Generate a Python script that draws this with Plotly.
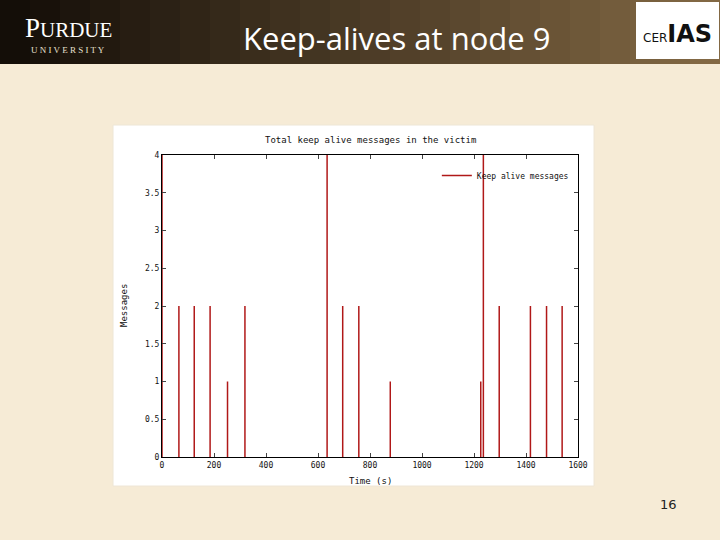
import plotly.graph_objects as go

# spike times (s) and message counts
times = [0, 65, 124, 185, 252, 319, 635, 695, 757, 878, 1226, 1236, 1297, 1417, 1479, 1539]
counts = [4, 2, 2, 2, 1, 2, 4, 2, 2, 1, 1, 4, 2, 2, 2, 2]
x_ticks = [0, 200, 400, 600, 800, 1000, 1200, 1400, 1600]
y_ticks = [0, 0.5, 1, 1.5, 2, 2.5, 3, 3.5, 4]

W, H = 720, 540
L, R, T, B = 162, 578, 155, 457

xs, ys = [], []
for t, c in zip(times, counts):
    xs += [t, t, None]
    ys += [0, c, None]

fig = go.Figure()
fig.add_trace(go.Scatter(x=xs, y=ys, mode="lines", name="Keep alive messages",
                         line=dict(color="#b01818", width=1.5)))

def px(x):
    return (x - L) / (R - L)

def py(y):
    return (B - y) / (B - T)

shapes = []
# header band with rough gradient
n = 24
for i in range(n):
    f = i / (n - 1)
    r = int(20 + f * 110); g = int(14 + f * 90); b = int(8 + f * 60)
    shapes.append(dict(type="rect", xref="paper", yref="paper", layer="below",
                       x0=px(i * W / n), x1=px((i + 1) * W / n + 1), y0=py(64), y1=py(0),
                       fillcolor=f"rgb({r},{g},{b})", line=dict(width=0)))
# white chart image box
shapes.append(dict(type="rect", xref="paper", yref="paper", layer="below",
                   x0=px(113), x1=px(594), y0=py(486), y1=py(125),
                   fillcolor="white", line=dict(color="#eee6d6", width=1)))
# CERIAS logo box
shapes.append(dict(type="rect", xref="paper", yref="paper",
                   x0=px(636), x1=px(719), y0=py(59), y1=py(2),
                   fillcolor="white", line=dict(width=0)))

def note(text, x, y, size, color="#111", family="DejaVu Sans Mono", **kw):
    return dict(text=text, x=px(x), y=py(y), xref="paper", yref="paper",
                xanchor="center", yanchor="middle", showarrow=False,
                font=dict(family=family, size=size, color=color), **kw)

annotations = [
    note("Keep-alives at node 9", 396, 38, 31, "white", "Open Sans"),
    note("P<span style='font-size:21px'>URDUE</span>", 68, 28, 27, "white", "Liberation Serif"),
    note("U N I V E R S I T Y", 68, 50, 9, "#e8e0d0", "Liberation Serif"),
    note("CER<b style='font-size:24px'>IAS</b>", 677, 34, 12, "#111", "DejaVu Sans"),
    note("16", 668, 504, 13, "#222", "DejaVu Sans"),
    note("Total keep alive messages in the victim", 370, 140, 9),
    note("Time (s)", 370, 481, 9),
    note("Messages", 124, 306, 9, textangle=-90),
]

axis_common = dict(showgrid=False, zeroline=False, showline=True, linecolor="black",
                   linewidth=1, mirror="ticks", ticks="inside", ticklen=4,
                   tickfont=dict(family="DejaVu Sans Mono", size=8, color="#111"))
fig.update_xaxes(range=[0, 1600], tickvals=x_ticks, **axis_common)
fig.update_yaxes(range=[0, 4], tickvals=y_ticks, **axis_common)

fig.update_layout(
    width=W, height=H,
    margin=dict(l=L, r=W - R, t=T, b=H - B),
    paper_bgcolor="#f6ebd6", plot_bgcolor="white",
    showlegend=True,
    legend=dict(x=0.99, y=0.98, xanchor="right", yanchor="top", bgcolor="rgba(0,0,0,0)",
                font=dict(family="DejaVu Sans Mono", size=8, color="#111")),
    shapes=shapes, annotations=annotations,
)

fig.write_html("out.html", config={"displayModeBar": False},
               post_script="document.body.style.margin='0';")
